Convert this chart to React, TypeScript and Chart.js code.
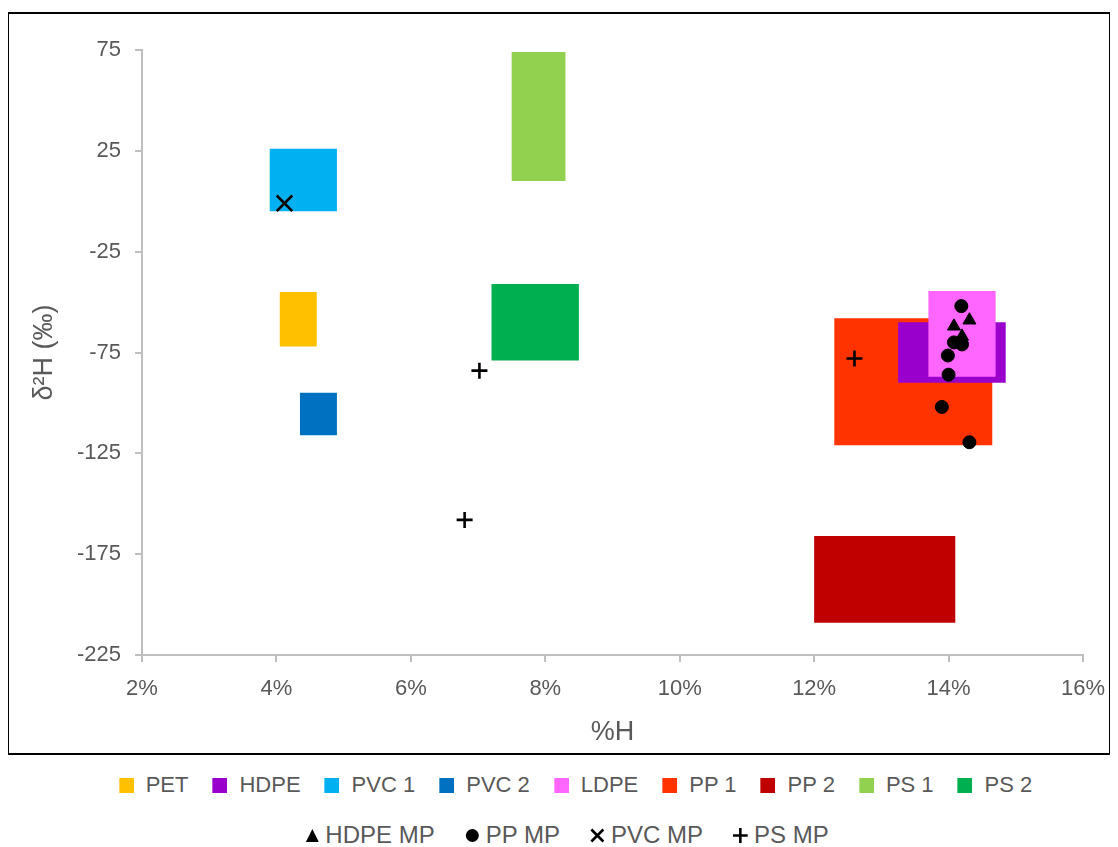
import React, { useEffect, useRef } from 'react';
import { Chart, registerables } from 'chart.js';

Chart.register(...registerables);

// Reference ranges for each polymer: %H span and δ2H span
const polymerNames = ['PET', 'HDPE', 'PVC 1', 'PVC 2', 'LDPE', 'PP 1', 'PP 2', 'PS 1', 'PS 2'];
const polymerColors = ['#FFC000', '#9900CC', '#00B0F0', '#0070C0', '#FF66FF', '#FF3300', '#C00000', '#92D050', '#00B050'];
const hLow = [4.05, 13.25, 3.9, 4.35, 13.7, 12.3, 12.0, 7.5, 7.2];
const hHigh = [4.6, 14.85, 4.9, 4.9, 14.7, 14.65, 14.1, 8.3, 8.5];
const d2hLow = [-72, -90, -5, -116, -87, -121, -209, 10, -79];
const d2hHigh = [-45, -60, 26, -95, -44.5, -58, -166, 74, -41];
// stacking: first entry is painted on top
const polymerPaintOrder = ['LDPE', 'HDPE', 'PP 1', 'PET', 'PVC 1', 'PVC 2', 'PP 2', 'PS 1', 'PS 2'];

// Microplastic measurements
const hdpeMpH = [14.31, 14.08, 14.2];
const hdpeMpD2H = [-59, -62, -67];
const ppMpH = [14.19, 14.08, 14.2, 13.99, 14.0, 13.9, 14.31];
const ppMpD2H = [-52, -70, -71, -76.5, -86, -102, -119.5];
const pvcMpH = [4.12];
const pvcMpD2H = [-1];
const psMpH = [7.02, 6.8, 12.6];
const psMpD2H = [-84, -158, -78];

// Axis ticks
const xTickMin = 2;
const xTickMax = 16;
const xTickStep = 2;
const yTickMin = -225;
const yTickMax = 75;
const yTickStep = 50;

const FONT = "'Liberation Sans', Arial, sans-serif";
const TEXT = '#595959';
const AXIS = '#BFBFBF';

const toPoints = (xs: number[], ys: number[]) => xs.map((x, i) => ({ x, y: ys[i] }));

function Marker({ kind, color }: { kind: string; color?: string }) {
  const s = 15;
  let body: React.ReactNode = null;
  if (kind === 'box') body = <rect x={0} y={0} width={s} height={s} fill={color} />;
  if (kind === 'triangle') body = <polygon points="7.5,1 14,14 1,14" fill="#000" />;
  if (kind === 'circle') body = <circle cx={7.5} cy={7.5} r={6.5} fill="#000" />;
  if (kind === 'x')
    body = (
      <g stroke="#000" strokeWidth={2.6}>
        <line x1={1.5} y1={1.5} x2={13.5} y2={13.5} />
        <line x1={13.5} y1={1.5} x2={1.5} y2={13.5} />
      </g>
    );
  if (kind === 'plus')
    body = (
      <g stroke="#000" strokeWidth={2.6}>
        <line x1={0} y1={7.5} x2={15} y2={7.5} />
        <line x1={7.5} y1={0} x2={7.5} y2={15} />
      </g>
    );
  return (
    <svg width={s} height={s} style={{ display: 'block', flex: 'none' }}>
      {body}
    </svg>
  );
}

const rowStyle: React.CSSProperties = {
  position: 'absolute',
  transform: 'translate(-50%, -50%)',
  display: 'flex',
  alignItems: 'center',
  whiteSpace: 'nowrap',
  fontFamily: FONT,
  color: TEXT,
};

export default function App() {
  const canvasRef = useRef<HTMLCanvasElement>(null);

  useEffect(() => {
    const canvas = canvasRef.current;
    if (!canvas) return;

    const rectSets = polymerPaintOrder.map((name) => {
      const i = polymerNames.indexOf(name);
      return {
        type: 'line' as const,
        label: name,
        data: [
          { x: hLow[i], y: d2hLow[i] },
          { x: hHigh[i], y: d2hLow[i] },
          { x: hHigh[i], y: d2hHigh[i] },
          { x: hLow[i], y: d2hHigh[i] },
          { x: hLow[i], y: d2hLow[i] },
        ],
        fill: 'shape' as const,
        backgroundColor: polymerColors[i],
        borderColor: 'rgba(0,0,0,0)',
        borderWidth: 1,
        pointRadius: 0,
        tension: 0,
      };
    });

    const pointSets = [
      {
        label: 'HDPE MP',
        data: toPoints(hdpeMpH, hdpeMpD2H),
        pointStyle: 'triangle' as const,
        pointRadius: 7.5,
        backgroundColor: '#000',
        borderColor: '#000',
        borderWidth: 1,
      },
      {
        label: 'PP MP',
        data: toPoints(ppMpH, ppMpD2H),
        pointStyle: 'circle' as const,
        pointRadius: 6.5,
        backgroundColor: '#000',
        borderColor: '#000',
        borderWidth: 1,
      },
      {
        label: 'PVC MP',
        data: toPoints(pvcMpH, pvcMpD2H),
        pointStyle: 'crossRot' as const,
        pointRadius: 11,
        backgroundColor: '#000',
        borderColor: '#000',
        borderWidth: 2.6,
      },
      {
        label: 'PS MP',
        data: toPoints(psMpH, psMpD2H),
        pointStyle: 'cross' as const,
        pointRadius: 8,
        backgroundColor: '#000',
        borderColor: '#000',
        borderWidth: 2.6,
      },
    ];

    const chart = new Chart(canvas, {
      type: 'scatter',
      data: { datasets: [...pointSets, ...rectSets] as any },
      options: {
        responsive: false,
        animation: false,
        events: [],
        layout: { padding: { top: 36, right: 26, bottom: 0, left: 0 } },
        plugins: {
          legend: { display: false },
          tooltip: { enabled: false },
        },
        scales: {
          x: {
            type: 'linear',
            min: xTickMin,
            max: xTickMax,
            afterFit: (s: any) => {
              s.height = 98;
              s.paddingLeft = 0;
              s.paddingRight = 0;
            },
            ticks: {
              stepSize: xTickStep,
              autoSkip: false,
              maxRotation: 0,
              padding: 14,
              color: TEXT,
              font: { family: FONT, size: 22 },
              callback: (v: any) => `${v}%`,
            },
            grid: {
              drawOnChartArea: false,
              drawTicks: true,
              tickLength: 7,
              color: AXIS,
              lineWidth: 2,
            },
            border: { display: true, color: AXIS, width: 2 },
            title: {
              display: true,
              text: '%H',
              color: TEXT,
              font: { family: FONT, size: 27 },
              padding: { top: 0, bottom: 3.8 },
            },
          },
          y: {
            type: 'linear',
            min: yTickMin,
            max: yTickMax,
            afterFit: (s: any) => {
              s.width = 133;
              s.paddingTop = 0;
              s.paddingBottom = 0;
            },
            ticks: {
              stepSize: yTickStep,
              autoSkip: false,
              padding: 14,
              color: TEXT,
              font: { family: FONT, size: 22 },
            },
            grid: {
              drawOnChartArea: false,
              drawTicks: true,
              tickLength: 7,
              color: AXIS,
              lineWidth: 2,
            },
            border: { display: true, color: AXIS, width: 2 },
            title: {
              display: true,
              text: 'δ²H (‰)',
              color: TEXT,
              font: { family: FONT, size: 27 },
              padding: { top: 19.8, bottom: 0 },
            },
          },
        },
      } as any,
    });

    return () => chart.destroy();
  }, []);

  const polymerLegend = polymerNames.map((name, i) => (
    <div key={name} style={{ display: 'flex', alignItems: 'center', marginRight: i < polymerNames.length - 1 ? 24 : 0 }}>
      <Marker kind="box" color={polymerColors[i]} />
      <span style={{ marginLeft: 12 }}>{name}</span>
    </div>
  ));

  const mpLegend = [
    { kind: 'triangle', label: 'HDPE MP' },
    { kind: 'circle', label: 'PP MP' },
    { kind: 'x', label: 'PVC MP' },
    { kind: 'plus', label: 'PS MP' },
  ].map((m, i) => (
    <div key={m.label} style={{ display: 'flex', alignItems: 'center', marginRight: i < 3 ? 30 : 0 }}>
      <Marker kind={m.kind} />
      <span style={{ marginLeft: 6 }}>{m.label}</span>
    </div>
  ));

  return (
    <div style={{ position: 'relative', width: 1102, height: 839 }}>
      <div
        style={{
          position: 'absolute',
          left: -1,
          top: 4,
          width: 1104,
          height: 743,
          border: '2px solid #000',
          boxSizing: 'border-box',
          background: '#fff',
        }}
      >
        <canvas ref={canvasRef} width={1100} height={739} style={{ display: 'block' }} />
      </div>
      <div style={{ ...rowStyle, fontSize: 22, left: 567.5, top: 777 }}>{polymerLegend}</div>
      <div style={{ ...rowStyle, fontSize: 24, left: 558.5, top: 827 }}>{mpLegend}</div>
    </div>
  );
}
